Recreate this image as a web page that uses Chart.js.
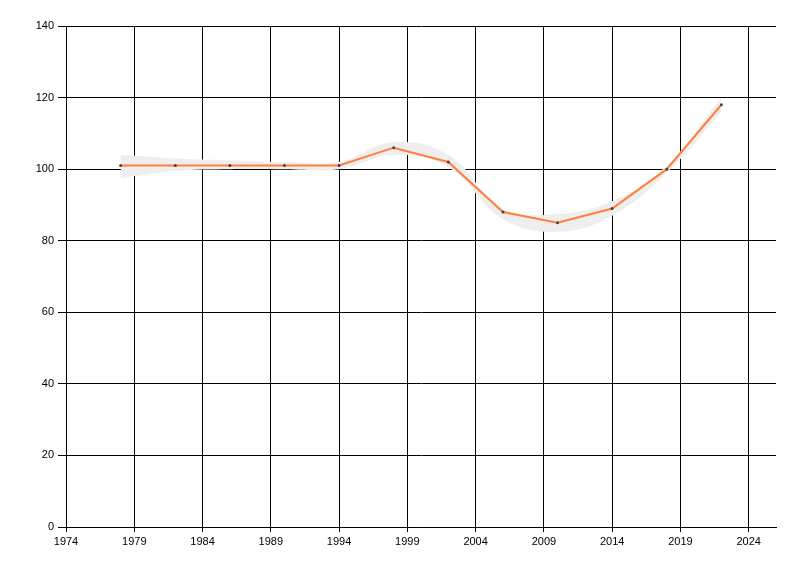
<!DOCTYPE html>
<html>
<head>
<meta charset="utf-8">
<script src="https://cdn.jsdelivr.net/npm/chart.js@4/dist/chart.umd.min.js"></script>
<style>
  html, body { margin: 0; padding: 0; background: #fff; }
  #wrap { width: 800px; height: 576px; }
</style>
</head>
<body>
<div id="wrap"><canvas id="chart" width="800" height="576"></canvas></div>
<script>
// data
const years = [1978, 1982, 1986, 1990, 1994, 1998, 2002, 2006, 2010, 2014, 2018, 2022];
const values = [101, 101, 101, 101, 101, 106, 102, 88, 85, 89, 100, 118];
const bandUpper = [104, 103, 102.5, 102, 102, 107.5, 104, 89, 87.5, 91, 101, 120];
const bandLower = [97.5, 99.5, 100, 100, 100, 104, 100.5, 86, 82.5, 87, 99, 116];
const xTicks = [1974, 1979, 1984, 1989, 1994, 1999, 2004, 2009, 2014, 2019, 2024];
const yTicks = [0, 20, 40, 60, 80, 100, 120, 140];

const toPoints = arr => arr.map((v, i) => ({ x: years[i], y: v }));

const tickFont = { family: 'Liberation Sans, Arial, sans-serif', size: 11 };

const ctx = document.getElementById('chart').getContext('2d');
new Chart(ctx, {
    type: 'line',
    data: {
        datasets: [
            {
                label: 'value',
                data: toPoints(values),
                borderColor: '#ff7f3f',
                borderWidth: 2,
                tension: 0,
                pointRadius: 1.5,
                pointBackgroundColor: '#444',
                pointBorderWidth: 0,
                fill: false,
                order: 0
            },
            {
                label: 'upper',
                data: toPoints(bandUpper),
                borderWidth: 0,
                borderColor: 'rgba(0,0,0,0)',
                backgroundColor: '#eeeeee',
                pointRadius: 0,
                tension: 0.4,
                fill: '+1',
                order: 1
            },
            {
                label: 'lower',
                data: toPoints(bandLower),
                borderWidth: 0,
                borderColor: 'rgba(0,0,0,0)',
                pointRadius: 0,
                tension: 0.4,
                fill: false,
                order: 2
            }
        ]
    },
    options: {
        responsive: false,
        animation: false,
        layout: { padding: { top: 26, right: 24, left: 0, bottom: 0 } },
        plugins: {
            legend: { display: false },
            tooltip: { enabled: false }
        },
        scales: {
            x: {
                type: 'linear',
                min: 1974,
                max: 2026,
                afterBuildTicks: scale => { scale.ticks = xTicks.map(v => ({ value: v })); },
                afterFit: scale => { scale.height = 49; },
                grid: { color: '#000', lineWidth: 1, tickLength: 5, tickColor: '#000' },
                border: { color: '#000', width: 1 },
                ticks: { color: '#000', font: tickFont, padding: 3, maxRotation: 0, callback: v => String(v) }
            },
            y: {
                min: 0,
                max: 140,
                afterBuildTicks: scale => { scale.ticks = yTicks.map(v => ({ value: v })); },
                afterFit: scale => { scale.width = 66; },
                grid: { color: '#000', lineWidth: 1, tickLength: 8, tickColor: '#000' },
                border: { color: '#000', width: 1 },
                ticks: { color: '#000', font: tickFont, padding: 4 }
            }
        }
    }
});
</script>
</body>
</html>
